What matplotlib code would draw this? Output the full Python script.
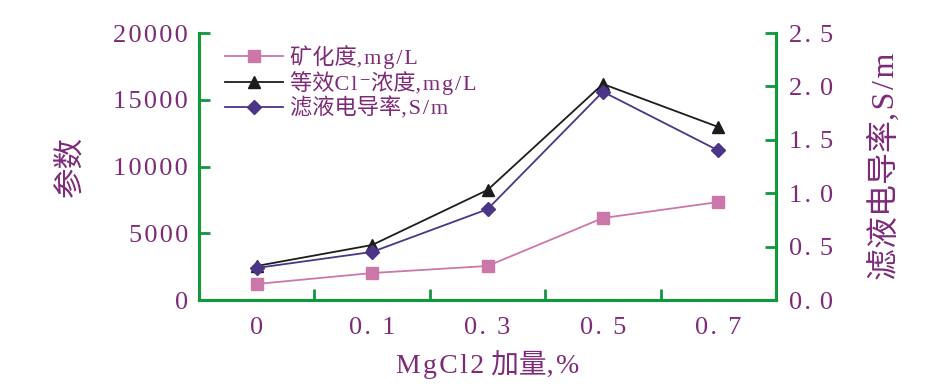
import numpy as np
import matplotlib.pyplot as plt
from matplotlib.ticker import FixedLocator

plt.rcParams['font.family'] = ['Liberation Serif', 'Noto Sans CJK SC', 'DejaVu Sans']

categories = ['0', '0. 1', '0. 3', '0. 5', '0. 7']
mineral = [1200, 2020, 2550, 6140, 7340]          # 矿化度, mg/L
chloride = [2550, 4120, 8240, 16180, 12960]       # 等效Cl-浓度, mg/L
conductivity = [0.30, 0.45, 0.85, 1.95, 1.40]     # 滤液电导率, S/m
left_ticks = [0, 5000, 10000, 15000, 20000]
right_ticks = [0.0, 0.5, 1.0, 1.5, 2.0, 2.5]


def spaced(s):
    # wide letter spacing like the original typesetting
    return '\u200a'.join(s)


txt = '#7d2a78'
green = '#14963f'
c_pink = '#cc77aa'
c_black = '#1c1c1c'
c_purple = '#4a3587'

fig = plt.figure(figsize=(9.38, 3.87), dpi=100)
ax = fig.add_axes([0.2122, 0.2248, 0.6151, 0.6899])
ax2 = ax.twinx()

x = np.arange(len(categories))
l1, = ax.plot(x, mineral, color=c_pink, lw=1.3, marker='s', ms=8,
              label='矿化度' + spaced(',mg/L'))
l2, = ax.plot(x, chloride, color=c_black, lw=1.3, marker='^', ms=9,
              label='等效' + spaced('Cl\u207b') + '浓度' + spaced(',mg/L'))
l3, = ax2.plot(x, conductivity, color=c_purple, lw=1.3, marker='D', ms=7,
               label='滤液电导率' + spaced(',S/m'))

ax.set_xlim(-0.5, 4.5)
ax.set_ylim(0, 20000)
ax2.set_ylim(0, 2.5)

ax.set_xticks(x)
ax.set_xticklabels([spaced(c) for c in categories])
ax.xaxis.set_minor_locator(FixedLocator([0.5, 1.5, 2.5, 3.5]))
ax.tick_params(axis='x', which='major', length=0, pad=12, labelsize=19, labelcolor=txt)
ax.tick_params(axis='x', which='minor', direction='in', length=8, width=2, color=green)

ax.set_yticks(left_ticks)
ax.set_yticklabels([spaced(str(v)) for v in left_ticks])
ax.tick_params(axis='y', direction='in', length=8, width=2, color=green, labelsize=19, labelcolor=txt, pad=8)
ax2.set_yticks(right_ticks)
ax2.set_yticklabels([spaced('%.1f' % v).replace('.', '. ') for v in right_ticks])
ax2.tick_params(axis='y', direction='in', length=8, width=2, color=green, labelsize=19, labelcolor=txt, pad=9)

for a in (ax, ax2):
    a.spines['top'].set_visible(False)
    for s in ('left', 'right', 'bottom'):
        a.spines[s].set_color(green)
        a.spines[s].set_linewidth(2.2)

ax.set_ylabel('参数', fontsize=22, color=txt, labelpad=20)
ax2.set_ylabel('滤液电导率' + spaced(',S/m'), fontsize=23, color=txt, labelpad=26)
ax.set_xlabel(spaced('MgCl2') + ' 加量' + spaced(',%'), fontsize=20, color=txt, labelpad=8)

leg = ax.legend(handles=[l1, l2, l3], loc='upper left', bbox_to_anchor=(0.01, 1.03),
                frameon=False, fontsize=16, handlelength=2.6, labelspacing=0.1,
                handletextpad=0.35)
for t in leg.get_texts():
    t.set_color(txt)

plt.savefig('out.png', dpi=100)
